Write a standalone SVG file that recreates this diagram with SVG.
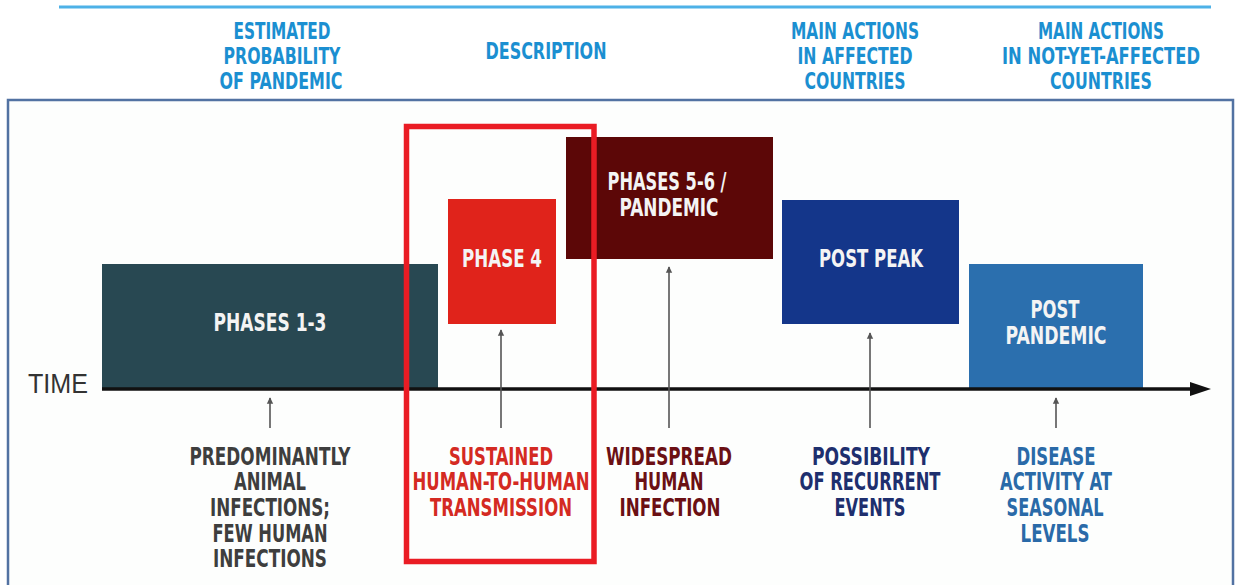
<svg xmlns="http://www.w3.org/2000/svg" width="1238" height="585" viewBox="0 0 1238 585">
<defs>
<style>
.t{font-family:"DejaVu Sans Condensed","DejaVu Sans","Liberation Sans",sans-serif;font-weight:bold;text-anchor:middle}
.h{font-size:23px;fill:#1b8fd1}
.b{font-size:24px;fill:#f4f4f4}
.d{font-size:24px}
.ptr{stroke:#555;stroke-width:1.6;fill:none}
</style>
<marker id="sa" viewBox="0 0 10 10" refX="9" refY="5" markerWidth="4" markerHeight="5" orient="auto" markerUnits="strokeWidth"><path d="M0,0 L10,5 L0,10 z" fill="#555"/></marker>
</defs>
<rect width="1238" height="585" fill="#ffffff"/>
<line x1="59" y1="7" x2="1211" y2="7" stroke="#4db1e7" stroke-width="3"/>
<g id="headers">
<text class="t h" x="282" y="39" textLength="97" lengthAdjust="spacingAndGlyphs">ESTIMATED</text>
<text class="t h" x="282" y="64" textLength="117" lengthAdjust="spacingAndGlyphs">PROBABILITY</text>
<text class="t h" x="281" y="89" textLength="123" lengthAdjust="spacingAndGlyphs">OF PANDEMIC</text>
<text class="t h" x="546" y="59" textLength="121" lengthAdjust="spacingAndGlyphs">DESCRIPTION</text>
<text class="t h" x="855" y="39" textLength="128" lengthAdjust="spacingAndGlyphs">MAIN ACTIONS</text>
<text class="t h" x="855" y="64" textLength="115" lengthAdjust="spacingAndGlyphs">IN AFFECTED</text>
<text class="t h" x="855" y="89" textLength="101" lengthAdjust="spacingAndGlyphs">COUNTRIES</text>
<text class="t h" x="1101" y="39" textLength="126" lengthAdjust="spacingAndGlyphs">MAIN ACTIONS</text>
<text class="t h" x="1101" y="64" textLength="198" lengthAdjust="spacingAndGlyphs">IN NOT-YET-AFFECTED</text>
<text class="t h" x="1101" y="89" textLength="102" lengthAdjust="spacingAndGlyphs">COUNTRIES</text>
</g>
<rect x="8" y="100" width="1225" height="510" fill="#fdfefd" stroke="#5272a2" stroke-width="2.5"/>
<g id="phases13">
<rect x="102" y="264" width="336" height="124" fill="#284852"/>
<text class="t b" x="270" y="331" textLength="113" lengthAdjust="spacingAndGlyphs">PHASES 1-3</text>
</g>
<g id="phase4">
<rect x="448" y="199" width="108" height="125" fill="#e0231b"/>
<text class="t b" x="502" y="267" textLength="80" lengthAdjust="spacingAndGlyphs">PHASE 4</text>
</g>
<g id="phases56">
<rect x="566" y="137" width="207" height="122" fill="#5c0707"/>
<text class="t b" x="667" y="190" textLength="119" lengthAdjust="spacingAndGlyphs">PHASES 5-6 /</text>
<text class="t b" x="669" y="216" textLength="99" lengthAdjust="spacingAndGlyphs">PANDEMIC</text>
</g>
<g id="postpeak">
<rect x="782" y="200" width="177" height="124" fill="#14368a"/>
<text class="t b" x="871" y="267" textLength="104" lengthAdjust="spacingAndGlyphs">POST PEAK</text>
</g>
<g id="postpandemic">
<rect x="969" y="264" width="174" height="124" fill="#2b6fae"/>
<text class="t b" x="1055" y="318" textLength="49" lengthAdjust="spacingAndGlyphs">POST</text>
<text class="t b" x="1056" y="344" textLength="101" lengthAdjust="spacingAndGlyphs">PANDEMIC</text>
</g>
<g id="timeline">
<line x1="102" y1="389" x2="1192" y2="389" stroke="#111" stroke-width="3.5"/>
<path d="M1190,382 L1211,389 L1190,396 z" fill="#111"/>
<text x="28" y="393" font-family="Liberation Sans,Arial,sans-serif" font-size="27" fill="#333" textLength="60" lengthAdjust="spacingAndGlyphs">TIME</text>
</g>
<g id="connectors">
<line class="ptr" x1="270" y1="428" x2="270" y2="398" marker-end="url(#sa)"/>
<line class="ptr" x1="501" y1="428" x2="501" y2="330" marker-end="url(#sa)"/>
<line class="ptr" x1="669" y1="428" x2="669" y2="267" marker-end="url(#sa)"/>
<line class="ptr" x1="870" y1="428" x2="870" y2="333" marker-end="url(#sa)"/>
<line class="ptr" x1="1056" y1="428" x2="1056" y2="398" marker-end="url(#sa)"/>
</g>
<g id="desc13">
<text class="t d" fill="#3e3e3e" x="270" y="465" textLength="161" lengthAdjust="spacingAndGlyphs">PREDOMINANTLY</text>
<text class="t d" fill="#3e3e3e" x="270" y="490" textLength="72" lengthAdjust="spacingAndGlyphs">ANIMAL</text>
<text class="t d" fill="#3e3e3e" x="270" y="516" textLength="120" lengthAdjust="spacingAndGlyphs">INFECTIONS;</text>
<text class="t d" fill="#3e3e3e" x="270" y="542" textLength="115" lengthAdjust="spacingAndGlyphs">FEW HUMAN</text>
<text class="t d" fill="#3e3e3e" x="270" y="567" textLength="114" lengthAdjust="spacingAndGlyphs">INFECTIONS</text>
</g>
<g id="desc4">
<text class="t d" fill="#d42a22" x="501" y="465" textLength="104" lengthAdjust="spacingAndGlyphs">SUSTAINED</text>
<text class="t d" fill="#d42a22" x="501" y="490" textLength="177" lengthAdjust="spacingAndGlyphs">HUMAN-TO-HUMAN</text>
<text class="t d" fill="#d42a22" x="501" y="516" textLength="142" lengthAdjust="spacingAndGlyphs">TRANSMISSION</text>
</g>
<g id="desc56">
<text class="t d" fill="#6b1014" x="669" y="465" textLength="126" lengthAdjust="spacingAndGlyphs">WIDESPREAD</text>
<text class="t d" fill="#6b1014" x="669" y="490" textLength="69" lengthAdjust="spacingAndGlyphs">HUMAN</text>
<text class="t d" fill="#6b1014" x="670" y="516" textLength="101" lengthAdjust="spacingAndGlyphs">INFECTION</text>
</g>
<g id="descpeak">
<text class="t d" fill="#1e2f6e" x="871" y="465" textLength="118" lengthAdjust="spacingAndGlyphs">POSSIBILITY</text>
<text class="t d" fill="#1e2f6e" x="870" y="490" textLength="141" lengthAdjust="spacingAndGlyphs">OF RECURRENT</text>
<text class="t d" fill="#1e2f6e" x="870" y="516" textLength="71" lengthAdjust="spacingAndGlyphs">EVENTS</text>
</g>
<g id="descpost">
<text class="t d" fill="#2a6aa8" x="1056" y="465" textLength="79" lengthAdjust="spacingAndGlyphs">DISEASE</text>
<text class="t d" fill="#2a6aa8" x="1056" y="490" textLength="112" lengthAdjust="spacingAndGlyphs">ACTIVITY AT</text>
<text class="t d" fill="#2a6aa8" x="1055" y="516" textLength="97" lengthAdjust="spacingAndGlyphs">SEASONAL</text>
<text class="t d" fill="#2a6aa8" x="1055" y="542" textLength="69" lengthAdjust="spacingAndGlyphs">LEVELS</text>
</g>
<g id="highlight">
<rect x="406.5" y="126.5" width="187.5" height="435" fill="none" stroke="#ea1c24" stroke-width="5.5"/>
</g>
</svg>
